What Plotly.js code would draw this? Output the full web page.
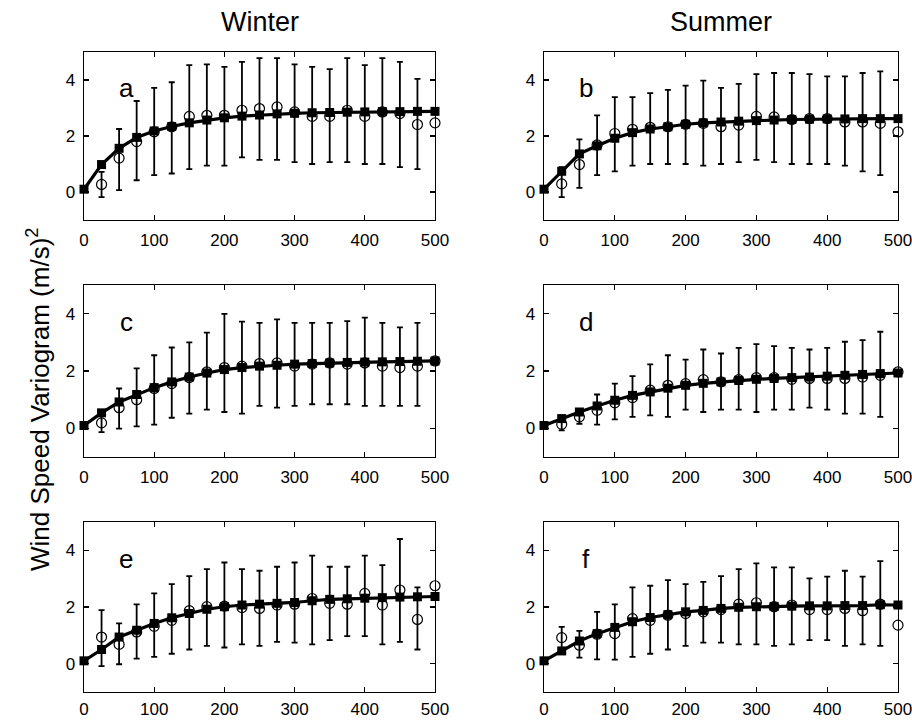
<!DOCTYPE html>
<html>
<head>
<meta charset="utf-8">
<script src="https://cdn.plot.ly/plotly-3.0.1.min.js"></script>
<style>html,body{margin:0;padding:0;background:#fff;}#chart{width:912px;height:720px;}</style>
</head>
<body>
<div id="chart"></div>
<script>
// ---- data ----
const lagsModel = [0,25,50,75,100,125,150,175,200,225,250,275,300,325,350,375,400,425,450,475,500];
const lagsObs   = [25,50,75,100,125,150,175,200,225,250,275,300,325,350,375,400,425,450,475,500];
const panelLabels = ['a','b','c','d','e','f'];
const columnTitles = ['Winter','Summer'];
const yTitle = 'Wind Speed Variogram (m/s)<sup>2</sup>';
const xTickVals = [0,100,200,300,400,500];
const yTickVals = [0,2,4];

const obsA  = [0.27,1.21,1.80,2.15,2.33,2.70,2.74,2.74,2.92,2.98,3.04,2.86,2.70,2.70,2.92,2.70,2.86,2.80,2.41,2.47];
const highA = [0.72,2.25,3.25,3.72,3.92,4.53,4.56,4.47,4.65,4.78,4.78,4.56,4.47,4.39,4.78,4.53,4.78,4.65,4.04,null];
const lowA  = [-0.18,0.07,0.42,0.60,0.66,0.82,0.94,0.94,1.24,1.15,1.15,1.07,1.00,1.07,1.07,1.00,1.00,0.89,0.82,null];
const modelA = [0.1,0.98,1.56,1.95,2.18,2.34,2.47,2.57,2.65,2.71,2.75,2.79,2.81,2.83,2.84,2.85,2.86,2.87,2.87,2.88,2.88];

const obsB  = [0.29,0.98,1.68,2.09,2.24,2.31,2.33,2.42,2.45,2.33,2.39,2.70,2.68,2.59,2.62,2.62,2.50,2.50,2.45,2.15];
const highB = [0.89,1.88,2.74,3.39,3.39,3.53,3.65,3.80,3.98,3.72,3.86,4.21,4.25,4.25,4.21,4.13,4.13,4.25,4.31,null];
const lowB  = [-0.18,0.15,0.60,0.74,0.94,1.00,1.00,1.00,0.94,1.00,1.07,1.15,1.07,1.00,1.00,1.00,0.94,0.74,0.60,null];
const modelB = [0.1,0.74,1.36,1.65,1.92,2.12,2.25,2.33,2.42,2.47,2.50,2.53,2.55,2.57,2.59,2.60,2.61,2.61,2.62,2.62,2.62];

const obsC  = [0.19,0.72,1.00,1.39,1.56,1.77,1.97,2.12,2.17,2.26,2.28,2.17,2.24,2.28,2.24,2.28,2.17,2.12,2.17,2.35];
const highC = [0.51,1.39,2.09,2.55,2.82,3.00,3.34,3.99,3.72,3.68,3.80,3.68,3.68,3.68,3.74,3.86,3.68,3.52,3.68,null];
const lowC  = [-0.13,-0.01,0.07,0.13,0.37,0.51,0.65,0.57,0.51,0.78,0.72,0.78,0.84,0.84,0.84,0.78,0.78,0.78,0.78,null];
const modelC = [0.1,0.54,0.92,1.18,1.42,1.62,1.79,1.93,2.05,2.12,2.17,2.20,2.24,2.26,2.28,2.30,2.31,2.32,2.33,2.34,2.35];

const obsD  = [0.14,0.40,0.63,0.89,1.07,1.33,1.50,1.56,1.70,1.62,1.70,1.77,1.77,1.71,1.74,1.74,1.74,1.79,1.85,1.97];
const highD = [0.34,0.65,1.18,1.56,1.82,2.23,2.55,2.40,2.75,2.61,2.81,2.94,2.87,2.81,2.75,2.81,3.02,3.08,3.37,null];
const lowD  = [-0.07,0.16,0.13,0.31,0.40,0.45,0.40,0.65,0.57,0.65,0.65,0.57,0.65,0.65,0.72,0.65,0.51,0.51,0.40,null];
const modelD = [0.1,0.34,0.57,0.78,0.98,1.15,1.27,1.40,1.50,1.57,1.62,1.67,1.71,1.74,1.77,1.79,1.82,1.85,1.88,1.91,1.93];

const obsE  = [0.94,0.68,1.12,1.32,1.53,1.87,2.01,2.03,1.98,1.95,2.07,2.10,2.30,2.13,2.10,2.48,2.07,2.60,1.56,2.75];
const highE = [1.89,1.42,2.09,2.48,2.81,3.09,3.34,3.57,3.34,3.28,3.42,3.57,3.81,3.42,3.42,3.81,3.48,4.40,2.69,null];
const lowE  = [-0.09,-0.02,0.18,0.24,0.35,0.50,0.63,0.57,0.68,0.63,0.77,0.74,0.68,0.83,0.97,0.97,0.68,0.77,0.50,null];
const modelE = [0.1,0.50,0.94,1.18,1.42,1.62,1.77,1.92,2.01,2.07,2.10,2.13,2.16,2.22,2.27,2.29,2.31,2.33,2.35,2.36,2.37];

const obsF  = [0.92,0.65,1.04,1.06,1.59,1.53,1.71,1.77,1.83,1.91,2.10,2.15,2.01,2.07,1.91,1.91,1.95,1.87,2.10,1.36];
const highF = [1.30,1.16,1.83,2.09,2.69,2.75,2.95,2.81,2.89,3.09,3.34,3.54,3.40,3.40,3.01,3.07,3.28,3.07,3.62,null];
const lowF  = [0.50,0.21,0.15,0.14,0.24,0.35,0.50,0.63,0.74,0.74,0.68,0.68,0.63,0.68,0.83,0.83,0.63,0.68,0.63,null];
const modelF = [0.1,0.45,0.80,1.06,1.28,1.48,1.63,1.73,1.83,1.88,1.95,1.99,2.01,2.02,2.03,2.04,2.04,2.05,2.05,2.08,2.07];

// ---- build ----
const panels = [
  {obs:obsA, high:highA, low:lowA, model:modelA},
  {obs:obsB, high:highB, low:lowB, model:modelB},
  {obs:obsC, high:highC, low:lowC, model:modelC},
  {obs:obsD, high:highD, low:lowD, model:modelD},
  {obs:obsE, high:highE, low:lowE, model:modelE},
  {obs:obsF, high:highF, low:lowF, model:modelF}
];

const W = 912, H = 720;
const colPx = [[84,435],[544,898]];
const rowPx = [[52,220],[285,457],[522,692]];
const FONT = 'Liberation Sans, Arial, Helvetica, sans-serif';

const data = [];
const layout = {
  width: W, height: H,
  margin: {l:0, r:0, t:0, b:0},
  paper_bgcolor: '#ffffff', plot_bgcolor: '#ffffff',
  showlegend: false,
  font: {family: FONT, color: '#000', size: 18},
  annotations: []
};

panels.forEach((p, i) => {
  const col = i % 2, row = Math.floor(i / 2);
  const sfx = i === 0 ? '' : String(i + 1);
  const xa = 'x' + sfx, ya = 'y' + sfx;
  const plus = p.obs.map((v, k) => p.high[k] === null ? NaN : p.high[k] - v);
  const minus = p.obs.map((v, k) => p.low[k] === null ? NaN : v - p.low[k]);
  data.push({
    type: 'scatter', mode: 'markers', x: lagsObs, y: p.obs, xaxis: xa, yaxis: ya,
    cliponaxis: false,
    marker: {symbol: 'circle-open', size: 10, color: '#000', line: {width: 1.2, color: '#000'}},
    error_y: {type: 'data', symmetric: false, array: plus, arrayminus: minus,
              color: '#000', thickness: 1.8, width: 3}
  });
  data.push({
    type: 'scatter', mode: 'lines+markers', x: lagsModel, y: p.model, xaxis: xa, yaxis: ya,
    cliponaxis: false,
    line: {color: '#000', width: 3.2},
    marker: {symbol: 'square', size: 9, color: '#000'}
  });
  const axCommon = {
    showgrid: false, zeroline: false, showline: true, mirror: 'ticks',
    linecolor: '#000', linewidth: 1.3, ticks: 'inside', ticklen: 5, tickwidth: 1.3,
    tickcolor: '#000', tickfont: {family: FONT, size: 17, color: '#000'}, fixedrange: true,
    ticklabeloverflow: 'allow'
  };
  layout['xaxis' + sfx] = Object.assign({}, axCommon, {
    domain: [colPx[col][0] / W, colPx[col][1] / W],
    range: [0, 500], tickmode: 'array', tickvals: xTickVals,
    ticktext: xTickVals.map(String), anchor: ya, ticklabelstandoff: row === 2 ? 1 : 4
  });
  layout['yaxis' + sfx] = Object.assign({}, axCommon, {
    domain: [1 - rowPx[row][1] / H, 1 - rowPx[row][0] / H],
    range: [-1, 5], tickmode: 'array', tickvals: yTickVals,
    ticktext: yTickVals.map(String), anchor: xa, ticklabelstandoff: 4
  });
  layout.annotations.push({
    xref: xa, yref: ya, x: 60, y: 3.7, text: panelLabels[i], showarrow: false,
    xanchor: 'center', yanchor: 'middle', font: {family: FONT, size: 26, color: '#000'}
  });
});

columnTitles.forEach((t, c) => {
  layout.annotations.push({
    xref: 'paper', yref: 'paper', x: (colPx[c][0] + colPx[c][1]) / 2 / W, y: 1 - 22 / H,
    text: t, showarrow: false, xanchor: 'center', yanchor: 'middle',
    font: {family: FONT, size: 27, color: '#000'}
  });
});
layout.annotations.push({
  xref: 'paper', yref: 'paper', x: 38 / W, y: 1 - 400 / H, text: yTitle, textangle: -90,
  showarrow: false, xanchor: 'center', yanchor: 'middle',
  font: {family: FONT, size: 26, color: '#000'}
});

Plotly.newPlot('chart', data, layout, {displayModeBar: false, staticPlot: true});
</script>
</body>
</html>
